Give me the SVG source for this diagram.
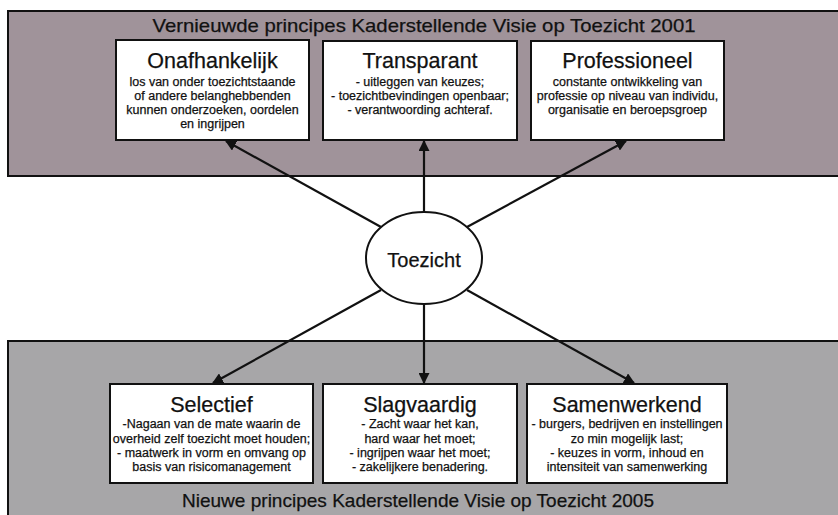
<svg xmlns="http://www.w3.org/2000/svg" width="838" height="515" viewBox="0 0 838 515">
<style>
.panel{stroke:#111;stroke-width:2}
.top{fill:#a0939a}
.bot{fill:#a7a6a8}
.box{fill:#fff;stroke:#111;stroke-width:2}
text{font-family:"Liberation Sans",Arial,sans-serif;fill:#111;stroke:#111;stroke-width:0.25;text-anchor:middle}
.ttl{font-size:19px}
.hd{font-size:21.5px}
.bd{font-size:12.5px}
.conn{stroke:#111;stroke-width:2.2;fill:none;marker-end:url(#ah)}
</style>
<defs>
<marker id="ah" viewBox="0 0 10 10" refX="9" refY="5" markerWidth="5" markerHeight="5" orient="auto" markerUnits="strokeWidth">
<path d="M0,0 L10,5 L0,10 z" fill="#111"/>
</marker>
</defs>
<rect width="838" height="515" fill="#fff"/>
<g id="panel-2001">
<rect class="panel top" x="8" y="11" width="835" height="165"/>
<text class="ttl" x="424" y="32" textLength="543" lengthAdjust="spacingAndGlyphs">Vernieuwde principes Kaderstellende Visie op Toezicht 2001</text>
</g>
<g id="panel-2005">
<rect class="panel bot" x="8" y="341" width="835" height="180"/>
<text class="ttl" x="418" y="507" textLength="472" lengthAdjust="spacingAndGlyphs">Nieuwe principes Kaderstellende Visie op Toezicht 2005</text>
</g>
<g id="connectors">
<line class="conn" x1="381" y1="227" x2="226" y2="141"/>
<line class="conn" x1="424" y1="212" x2="424" y2="141"/>
<line class="conn" x1="467" y1="227" x2="626" y2="141"/>
<line class="conn" x1="381" y1="290" x2="213" y2="383"/>
<line class="conn" x1="424" y1="304" x2="424" y2="383"/>
<line class="conn" x1="467" y1="290" x2="634" y2="383"/>
</g>
<g id="toezicht">
<ellipse cx="424" cy="258" rx="58" ry="46" fill="#fff" stroke="#111" stroke-width="2"/>
<text x="424" y="267" style="font-size:20px">Toezicht</text>
</g>
<g id="onafhankelijk">
<rect class="box" x="116" y="40" width="193" height="100"/>
<text class="hd" x="212.5" y="68">Onafhankelijk</text>
<text class="bd" x="212.5" y="86">los van onder toezichtstaande</text>
<text class="bd" x="212.5" y="100">of andere belanghebbenden</text>
<text class="bd" x="212.5" y="114">kunnen onderzoeken, oordelen</text>
<text class="bd" x="212.5" y="128">en ingrijpen</text>
</g>
<g id="transparant">
<rect class="box" x="323" y="41" width="194" height="99"/>
<text class="hd" x="420" y="68">Transparant</text>
<text class="bd" x="420" y="86">- uitleggen van keuzes;</text>
<text class="bd" x="420" y="100">- toezichtbevindingen openbaar;</text>
<text class="bd" x="420" y="114">- verantwoording achteraf.</text>
</g>
<g id="professioneel">
<rect class="box" x="531" y="41" width="193" height="99"/>
<text class="hd" x="627.5" y="68">Professioneel</text>
<text class="bd" x="627.5" y="86">constante ontwikkeling van</text>
<text class="bd" x="627.5" y="100">professie op niveau van individu,</text>
<text class="bd" x="627.5" y="114">organisatie en beroepsgroep</text>
</g>
<g id="selectief">
<rect class="box" x="110" y="384" width="203" height="99"/>
<text class="hd" x="211.5" y="412">Selectief</text>
<text class="bd" x="211.5" y="428">-Nagaan van de mate waarin de</text>
<text class="bd" x="211.5" y="443">overheid zelf toezicht moet houden;</text>
<text class="bd" x="211.5" y="457">- maatwerk in vorm en omvang op</text>
<text class="bd" x="211.5" y="471">basis van risicomanagement</text>
</g>
<g id="slagvaardig">
<rect class="box" x="323" y="384" width="194" height="99"/>
<text class="hd" x="420" y="412">Slagvaardig</text>
<text class="bd" x="420" y="428">- Zacht waar het kan,</text>
<text class="bd" x="420" y="443">hard waar het moet;</text>
<text class="bd" x="420" y="457">- ingrijpen waar het moet;</text>
<text class="bd" x="420" y="471">- zakelijkere benadering.</text>
</g>
<g id="samenwerkend">
<rect class="box" x="527" y="384" width="200" height="99"/>
<text class="hd" x="627" y="412">Samenwerkend</text>
<text class="bd" x="627" y="428">- burgers, bedrijven en instellingen</text>
<text class="bd" x="627" y="443">zo min mogelijk last;</text>
<text class="bd" x="627" y="457">- keuzes in vorm, inhoud en</text>
<text class="bd" x="627" y="471">intensiteit van samenwerking</text>
</g>
</svg>
